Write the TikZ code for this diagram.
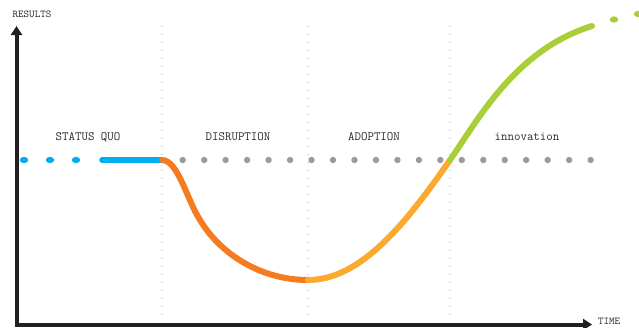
\documentclass[tikz,border=0pt]{standalone}
\usetikzlibrary{arrows.meta}
\definecolor{axisblack}{HTML}{231F20}
\definecolor{qblue}{HTML}{00ADEF}
\definecolor{qorange}{HTML}{F47B20}
\definecolor{qamber}{HTML}{FBAA2F}
\definecolor{qgreen}{HTML}{A8CF38}
\definecolor{dotgrey}{HTML}{9B9B9B}
\definecolor{gridgrey}{HTML}{D6D6D6}
\definecolor{textgrey}{HTML}{2A2A2A}
\begin{document}
\begin{tikzpicture}[x=1pt,y=-1pt,
  axis/.style={line width=4pt, draw=axisblack, line join=miter,
    {Triangle[length=9pt,width=11pt]}-{Triangle[length=9pt,width=11pt]}},
  phase/.style={font=\ttfamily\fontsize{12.6}{14}\selectfont, text=textgrey, inner sep=0pt},
  axlabel/.style={font=\ttfamily\fontsize{10.5}{12}\selectfont, text=textgrey, inner sep=0pt},
  grid/.style={draw=gridgrey, line width=1.6pt, dash pattern=on 1.6pt off 6.4pt},
  curve/.style={line width=6pt, line cap=round}]
\useasboundingbox (0,0) rectangle (639,327);

% phase separators
\foreach \x/\n in {162/a,308/b,450/c}{
  \coordinate (g\n top) at (\x,25.5);
  \coordinate (g\n bot) at (\x,320);
  \draw[grid] (g\n top) -- (g\n bot);
}

% axes
\coordinate (ytop) at (16.5,26);
\coordinate (origin) at (16.5,324.5);
\coordinate (xend) at (592,324.5);
\draw[axis] (ytop) -- (origin) -- (xend);
\node[axlabel] (results) at (32,14) {RESULTS};
\node[axlabel, anchor=south west] (time) at (598,324.5) {TIME};

% grey baseline dots
\foreach \i in {0,...,19}{
  \fill[dotgrey] (182.7+21.47*\i,160) circle (3.2);
}

% status quo (blue)
\foreach \x in {24,50,76}{
  \fill[qblue] (\x,160) ellipse (4.2 and 3.2);
}
\coordinate (sqstart) at (102,160);
\coordinate (sqend) at (162,160);
\draw[curve, qblue, line width=5.5pt] (sqstart) -- (sqend);

% disruption (orange)
\coordinate (mid) at (200,220);
\coordinate (low) at (308,280);
\draw[curve, qorange] (sqend) .. controls (178,160) and (187,200) .. (mid)
  .. controls (221,255) and (262,280) .. (low);

% adoption (amber)
\coordinate (cross) at (450,160);
\draw[curve, qamber] (low) .. controls (360,280) and (405,225) .. (cross);

% innovation (green)
\coordinate (top) at (592,26);
\draw[curve, qgreen] (cross) .. controls (478,120) and (515,50) .. (top);
\fill[qgreen] (614,19.5) ellipse (4.2 and 3.2);
\fill[qgreen] (638,14) ellipse (4.2 and 3.2);

% phase labels
\node[phase] (statusquo) at (88,137) {STATUS QUO};
\node[phase] (disruption) at (238,137) {DISRUPTION};
\node[phase] (adoption) at (374,137) {ADOPTION};
\node[phase] (innovation) at (527,137) {innovation};
\end{tikzpicture}
\end{document}
